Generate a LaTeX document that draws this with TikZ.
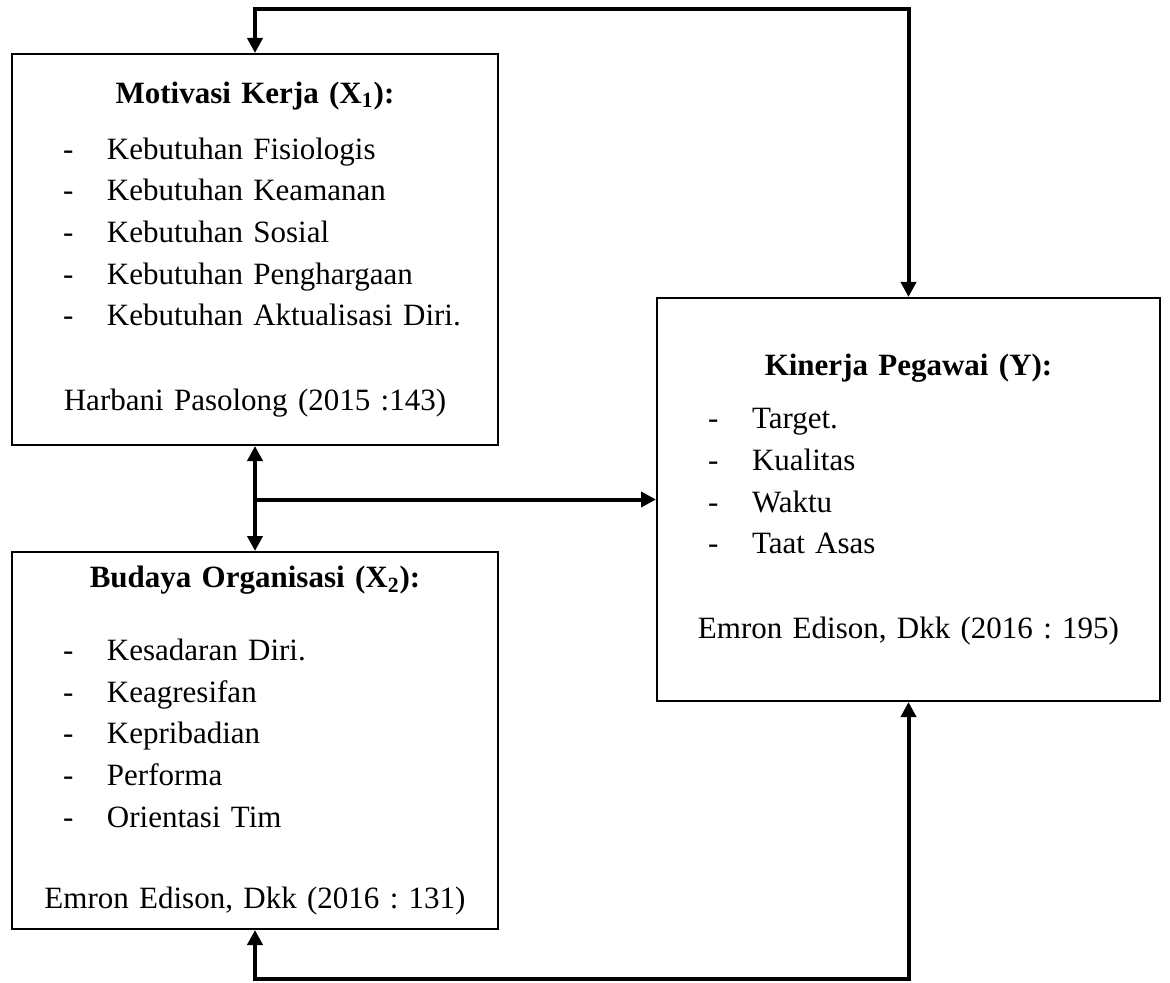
\documentclass[tikz,border=0pt]{standalone}
\usepackage{fontspec}
\setmainfont{Liberation Serif}
\usetikzlibrary{arrows.meta}

% one item line of a box: dash, then the text
\newcommand{\butir}[1]{\noindent\hbox to \hsize{\hspace{25.5pt}\makebox[22pt][l]{-}#1\hfil}}

\begin{document}
\begin{tikzpicture}[
		x=0.5pt, y=-0.5pt,
		kotak/.style={draw, line width=1pt, inner xsep=0pt, align=center,
				font=\fontsize{15.5}{20.85}\selectfont\frenchspacing},
		duaarah/.style={line width=2pt, {Triangle[width=7.5pt,length=7.5pt]}-{Triangle[width=7.5pt,length=7.5pt]}},
		panah/.style={line width=2pt, -{Triangle[width=7.5pt,length=7.5pt]}}
	]
	\useasboundingbox (0,0) rectangle (1170,983);

	\node[kotak, minimum width=243pt, text width=243pt, minimum height=195.5pt] (motivasi) at (255,249.5) {
		\textbf{Motivasi Kerja (X\textsubscript{1}):}\\[7.2pt]
		\butir{Kebutuhan Fisiologis}\\
		\butir{Kebutuhan Keamanan}\\
		\butir{Kebutuhan Sosial}\\
		\butir{Kebutuhan Penghargaan}\\
		\butir{Kebutuhan Aktualisasi Diri.}\\[21.6pt]
		Harbani Pasolong (2015 :143)
	};
	\node[kotak, minimum width=243pt, text width=243pt, minimum height=188.5pt] (budaya) at (255,740.5) {
		\textbf{Budaya Organisasi (X\textsubscript{2}):}\\[15.6pt]
		\butir{Kesadaran Diri.}\\
		\butir{Keagresifan}\\
		\butir{Kepribadian}\\
		\butir{Performa}\\
		\butir{Orientasi Tim}\\[19.6pt]
		Emron Edison, Dkk (2016 : 131)
	};
	\node[kotak, minimum width=251.5pt, text width=251.5pt, minimum height=201.5pt] (kinerja) at (908.5,499.5) {
		\textbf{Kinerja Pegawai (Y):}\\[5.6pt]
		\butir{Target.}\\
		\butir{Kualitas}\\
		\butir{Waktu}\\
		\butir{Taat Asas}\\[21.2pt]
		Emron Edison, Dkk (2016 : 195)
	};

	% connectors
	\draw[duaarah] (motivasi.north) -- ++(0,-44) -| (kinerja.north);
	\draw[duaarah] (budaya.south) -- ++(0,49) -| (kinerja.south);
	\draw[duaarah] (motivasi.south) -- (budaya.north);
	\draw[panah] (motivasi.south |- kinerja.west) -- (kinerja.west);
\end{tikzpicture}
\end{document}
